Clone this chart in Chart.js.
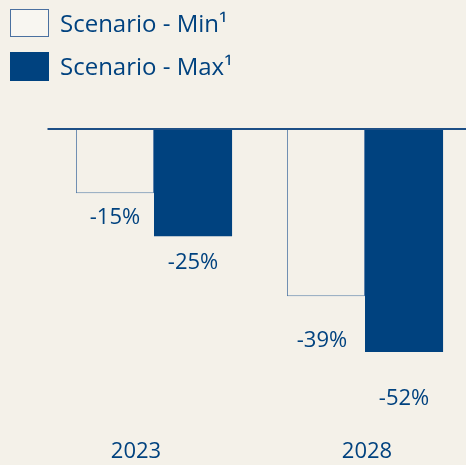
<!DOCTYPE html>
<html>
<head>
<meta charset="utf-8">
<script src="https://cdn.jsdelivr.net/npm/chart.js@4.4.1/dist/chart.umd.min.js"></script>
<style>
  html, body { margin: 0; padding: 0; background: #f4f1e9; overflow: hidden; }
  #wrap { position: relative; width: 476px; height: 465px; }
</style>
</head>
<body>
<div id="wrap"><canvas id="c"></canvas></div>
<script>
// Change vs. today, in percent
const years = ['2023', '2028'];
const seriesNames = ['Scenario - Min\u00b9', 'Scenario - Max\u00b9'];
const minValues = [-15, -39];
const maxValues = [-25, -52];

const BG = '#f4f1e9';
const BLUE = '#00427f';
const EDGE = '#5b80a9';
const FONT = '"Open Sans", Lato, sans-serif';

// extra vertical gap between a bar's end and its value label, per dataset / category
const labelGap = [[23, 43], [26, 46]];
const labelShiftX = [[0, -4], [0, 0]];
const yearShiftX = [-18, 2];

const decorations = {
  id: 'decorations',
  afterDatasetsDraw(chart) {
    const { ctx, chartArea, scales } = chart;
    const y0 = scales.y.getPixelForValue(0);
    ctx.save();

    // zero baseline
    ctx.strokeStyle = '#1d4f86';
    ctx.lineWidth = 2;
    ctx.beginPath();
    ctx.moveTo(chartArea.left - 1, y0);
    ctx.lineTo(chart.width, y0);
    ctx.stroke();

    // value labels under each bar
    ctx.fillStyle = BLUE;
    ctx.font = '22px ' + FONT;
    ctx.textAlign = 'center';
    ctx.textBaseline = 'middle';
    chart.data.datasets.forEach((ds, di) => {
      const meta = chart.getDatasetMeta(di);
      meta.data.forEach((bar, i) => {
        const v = ds.data[i];
        const yEnd = scales.y.getPixelForValue(v);
        ctx.fillText(v + '%', bar.x + labelShiftX[di][i], yEnd + labelGap[di][i] + 1);
      });
    });

    // category labels
    ctx.font = '22px ' + FONT;
    years.forEach((yr, i) => {
      ctx.fillText(yr, scales.x.getPixelForValue(i) + yearShiftX[i], 452);
    });

    // legend
    ctx.font = '24px ' + FONT;
    ctx.textAlign = 'left';
    ctx.textBaseline = 'alphabetic';
    chart.data.datasets.forEach((ds, di) => {
      const top = 9 + di * 43;
      if (di === 0) {
        ctx.fillStyle = '#f8f6f1';
        ctx.fillRect(10, top, 39, 28);
        ctx.strokeStyle = '#4a70a0';
        ctx.lineWidth = 1;
        ctx.strokeRect(10.5, top + 0.5, 38, 27);
      } else {
        ctx.fillStyle = BLUE;
        ctx.fillRect(10, top, 39, 29);
      }
      ctx.fillStyle = BLUE;
      ctx.fillText(ds.label, 60, top + 23);
    });
    ctx.restore();
  }
};

new Chart(document.getElementById('c'), {
  type: 'bar',
  data: {
    labels: years,
    datasets: [
      {
        label: seriesNames[0],
        data: minValues,
        backgroundColor: BG,
        borderColor: EDGE,
        borderWidth: 1,
        borderSkipped: 'start'
      },
      {
        label: seriesNames[1],
        data: maxValues,
        backgroundColor: BLUE,
        borderWidth: 0
      }
    ]
  },
  options: {
    responsive: true,
    maintainAspectRatio: false,
    animation: false,
    layout: { padding: { left: 48.5, right: 5.5, top: 129, bottom: 78.7 } },
    datasets: { bar: { categoryPercentage: 0.74, barPercentage: 1.0 } },
    scales: {
      x: { display: false },
      y: { display: false, min: -60, max: 0 }
    },
    plugins: {
      legend: { display: false },
      tooltip: { enabled: false }
    }
  },
  plugins: [decorations]
});
</script>
</body>
</html>
